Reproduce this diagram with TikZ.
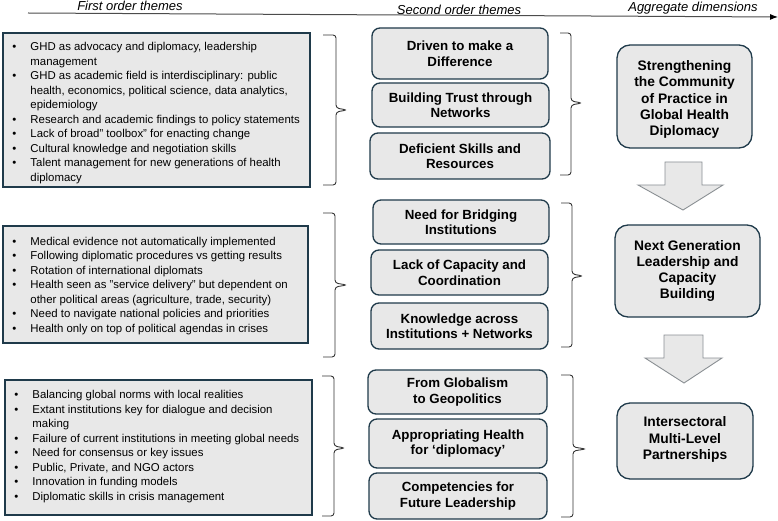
\documentclass[tikz,border=0pt]{standalone}
\usepackage{fontspec}
\setmainfont{Liberation Sans}
\usetikzlibrary{arrows.meta}
\definecolor{boxfill}{HTML}{E8E8E8}
\definecolor{boxline}{HTML}{1F3A4A}
\definecolor{arrline}{HTML}{8A8F93}
\definecolor{bracecol}{HTML}{333333}
\newcommand\bl{\makebox[18pt][l]{•}}
\newcommand\cl{\hspace*{18pt}}
\newcommand\mybrace[6]{\draw[bracestyle] ({#1},{#4}) -- ({#2},{#4}) -- ({#2},{#5-2}) -- ({#3},{#5}) -- ({#2},{#5+2}) -- ({#2},{#6}) -- ({#1},{#6});}
\begin{document}
\begin{tikzpicture}[x=1pt,y=-1pt,
  lbox/.style={draw=boxline,line width=1.5pt,fill=boxfill,inner sep=0pt},
  ltext/.style={anchor=west,inner sep=0pt,align=left,font=\fontsize{11.4}{14.5}\selectfont},
  sbox/.style={draw=boxline,line width=1.3pt,fill=boxfill,rounded corners=8pt,inner sep=0pt,
    align=center,font=\bfseries\fontsize{13.3}{15.5}\selectfont},
  abox/.style={draw=boxline,line width=1.3pt,fill=boxfill,rounded corners=13pt,inner sep=0pt,
    align=center,font=\bfseries\fontsize{13.8}{16.2}\selectfont},
  atext/.style={inner sep=0pt,align=center,font=\bfseries\fontsize{13.8}{16.2}\selectfont},
  head/.style={font=\itshape\fontsize{13}{15}\selectfont,inner sep=0pt},
  blockarrow/.style={draw=arrline,line width=0.9pt,fill=boxfill,line join=miter},
  bracestyle/.style={draw=bracecol,line width=0.9pt,rounded corners=3pt}]
\useasboundingbox (0,0) rectangle (778,521);

% header
\node[head] (h1) at (130,6) {First order themes};
\node[head] (h2) at (459,10) {Second order themes};
\node[head] (h3) at (693,8) {Aggregate dimensions};
\coordinate (hs) at (28,13);
\coordinate (he) at (778,17);
\draw[draw=black!70,line width=1pt,-{Latex[length=8pt,width=6pt,color=black]}] (hs) -- (he);

% first order boxes
\node[lbox,minimum width=307pt,minimum height=154pt] (L1) at (156.5,110) {};
\node[ltext] (T1) at ([xshift=10pt,yshift=-3pt]L1.west) {%
\bl GHD as advocacy and diplomacy, leadership\\
\cl management\\
\bl GHD as academic field is interdisciplinary: public\\
\cl health, economics, political science, data analytics,\\
\cl epidemiology\\
\bl Research and academic findings to policy statements\\
\bl Lack of broad" toolbox" for enacting change\\
\bl Cultural knowledge and negotiation skills\\
\bl Talent management for new generations of health\\
\cl diplomacy};

\node[lbox,minimum width=305pt,minimum height=117pt] (L2) at (155.5,284.5) {};
\node[ltext] (T2) at ([xshift=10pt,yshift=-1.5pt]L2.west) {%
\bl Medical evidence not automatically implemented\\
\bl Following diplomatic procedures vs getting results\\
\bl Rotation of international diplomats\\
\bl Health seen as "service delivery" but dependent on\\
\cl other political areas (agriculture, trade, security)\\
\bl Need to navigate national policies and priorities\\
\bl Health only on top of political agendas in crises};

\node[lbox,minimum width=307pt,minimum height=135pt] (L3) at (158.5,447.5) {};
\node[ltext] (T3) at ([xshift=10pt,yshift=1pt]L3.west) {%
\bl Balancing global norms with local realities\\
\bl Extant institutions key for dialogue and decision\\
\cl making\\
\bl Failure of current institutions in meeting global needs\\
\bl Need for consensus or key issues\\
\bl Public, Private, and NGO actors\\
\bl Innovation in funding models\\
\bl Diplomatic skills in crisis management};

% braces first order
\mybrace{323}{336}{347}{35}{110}{185}
\mybrace{323}{335}{347}{213}{285}{357}
\mybrace{322}{334}{345}{376}{448}{516}

% second order boxes
\node[sbox,minimum width=176pt,minimum height=51pt] (D1) at (460,53.5) {Driven to make a\\Difference};
\node[sbox,minimum width=177pt,minimum height=44pt] (D2) at (460.5,105) {Building Trust through\\Networks};
\node[sbox,minimum width=180pt,minimum height=46pt] (D3) at (460,156) {Deficient Skills and\\Resources};

\node[sbox,minimum width=176pt,minimum height=44pt] (N1) at (461,222) {Need for Bridging\\Institutions};
\node[sbox,minimum width=177pt,minimum height=45pt] (N2) at (459.5,272.5) {Lack of Capacity and\\Coordination};
\node[sbox,minimum width=177pt,minimum height=46pt] (N3) at (459.5,326) {Knowledge across\\Institutions + Networks};

\node[sbox,minimum width=179pt,minimum height=44pt] (G1) at (457.5,392) {From Globalism\\to Geopolitics};
\node[sbox,minimum width=178pt,minimum height=49pt] (G2) at (458,443.5) {Appropriating Health\\for ‘diplomacy’};
\node[sbox,minimum width=178pt,minimum height=46pt] (G3) at (458,496) {Competencies for\\Future Leadership};

% braces second order
\mybrace{560}{571}{582}{33}{103}{175}
\mybrace{561}{572}{583}{203}{276}{347}
\mybrace{561}{573}{586}{375}{449}{517}

% aggregate boxes
\node[abox,minimum width=135pt,minimum height=103pt] (A1) at (684.5,96.5) {};
\node[atext] (A1t) at ([yshift=-3pt]A1.center) {Strengthening\\the Community\\of Practice in\\Global Health\\Diplomacy};
\node[abox,minimum width=145pt,minimum height=92pt] (A2) at (687.5,271) {Next Generation\\Leadership and\\Capacity\\Building};
\node[abox,minimum width=136pt,minimum height=76pt] (A3) at (685,441) {};
\node[atext] (A3t) at ([yshift=1.5pt]A3.center) {Intersectoral\\Multi-Level\\Partnerships};

% block arrows
\draw[blockarrow] (665,162) -- (702,162) -- (702,185) -- (723,185) -- (683,210) -- (638,185) -- (665,185) -- cycle;
\draw[blockarrow] (664,335) -- (703,335) -- (703,358) -- (722,358) -- (684,383) -- (645,358) -- (664,358) -- cycle;
\end{tikzpicture}
\end{document}
